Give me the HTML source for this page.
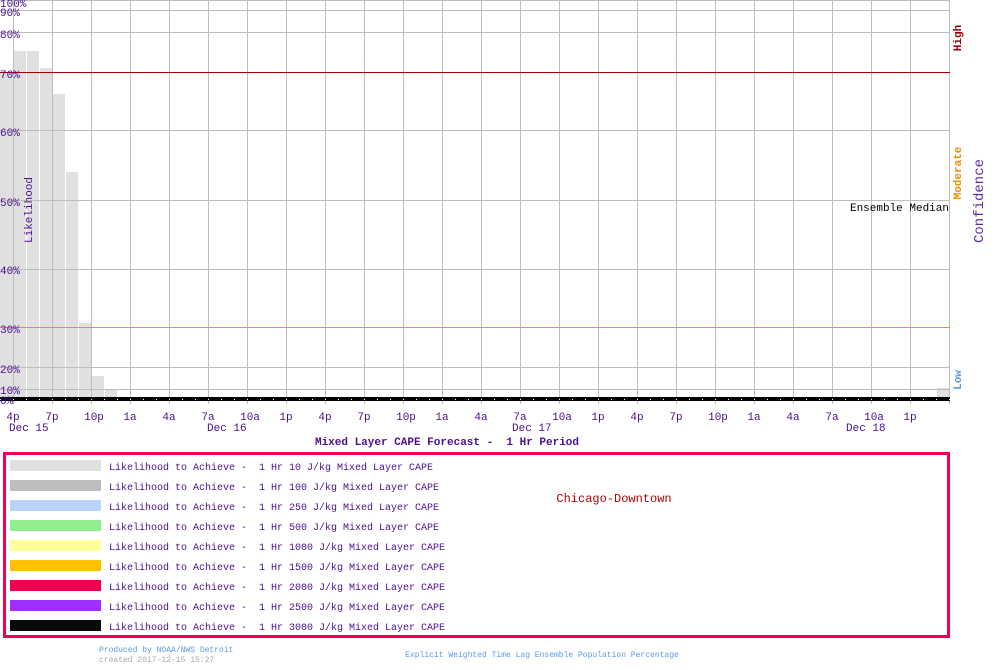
<!DOCTYPE html>
<html><head><style>
body{margin:0;background:#fff;width:1000px;height:670px;overflow:hidden}
svg{display:block}
text{font-family:"Liberation Mono","DejaVu Sans Mono",monospace}
.pre{white-space:pre}
</style></head><body>
<svg width="1000" height="670" viewBox="0 0 1000 670" xmlns="http://www.w3.org/2000/svg">
<g fill="#e0e0e0">
<rect x="0" y="72" width="13" height="328"/>
<rect x="14" y="51" width="12" height="349"/>
<rect x="27" y="51" width="12" height="349"/>
<rect x="40" y="68" width="12" height="332"/>
<rect x="53" y="94" width="12" height="306"/>
<rect x="66" y="172" width="12" height="228"/>
<rect x="79" y="323" width="12" height="77"/>
<rect x="92" y="376" width="12" height="24"/>
<rect x="105" y="390" width="12" height="10"/>
<rect x="937" y="388" width="13" height="12"/>
</g>
<g stroke="#bdbdbd" stroke-width="1">
<line x1="0" y1="0.5" x2="950" y2="0.5"/>
<line x1="0" y1="10.5" x2="950" y2="10.5"/>
<line x1="0" y1="32.5" x2="950" y2="32.5"/>
<line x1="0" y1="130.5" x2="950" y2="130.5"/>
<line x1="0" y1="200.5" x2="950" y2="200.5"/>
<line x1="0" y1="269.5" x2="950" y2="269.5"/>
<line x1="0" y1="367.5" x2="950" y2="367.5"/>
<line x1="0" y1="389.5" x2="950" y2="389.5"/>
</g>
<g stroke="#bdbdbd" stroke-width="1">
<line x1="13.5" y1="0" x2="13.5" y2="404"/><line x1="52.5" y1="0" x2="52.5" y2="404"/><line x1="91.5" y1="0" x2="91.5" y2="404"/><line x1="130.5" y1="0" x2="130.5" y2="404"/><line x1="169.5" y1="0" x2="169.5" y2="404"/><line x1="208.5" y1="0" x2="208.5" y2="404"/><line x1="247.5" y1="0" x2="247.5" y2="404"/><line x1="286.5" y1="0" x2="286.5" y2="404"/><line x1="325.5" y1="0" x2="325.5" y2="404"/><line x1="364.5" y1="0" x2="364.5" y2="404"/><line x1="403.5" y1="0" x2="403.5" y2="404"/><line x1="442.5" y1="0" x2="442.5" y2="404"/><line x1="481.5" y1="0" x2="481.5" y2="404"/><line x1="520.5" y1="0" x2="520.5" y2="404"/><line x1="559.5" y1="0" x2="559.5" y2="404"/><line x1="598.5" y1="0" x2="598.5" y2="404"/><line x1="637.5" y1="0" x2="637.5" y2="404"/><line x1="676.5" y1="0" x2="676.5" y2="404"/><line x1="715.5" y1="0" x2="715.5" y2="404"/><line x1="754.5" y1="0" x2="754.5" y2="404"/><line x1="793.5" y1="0" x2="793.5" y2="404"/><line x1="832.5" y1="0" x2="832.5" y2="404"/><line x1="871.5" y1="0" x2="871.5" y2="404"/><line x1="910.5" y1="0" x2="910.5" y2="404"/><line x1="949.5" y1="0" x2="949.5" y2="404"/>
</g>
<line x1="0" y1="72.5" x2="950" y2="72.5" stroke="#a00000"/>
<line x1="0" y1="327.5" x2="950" y2="327.5" stroke="#f0901a"/>
<rect x="0" y="397" width="950" height="4" fill="#000"/>
<line x1="0" y1="399.5" x2="950" y2="399.5" stroke="#fff" stroke-dasharray="1 12" stroke-dashoffset="-13"/>
<g fill="#4b0f8f" font-size="11">
<text x="0" y="7">100%</text>
<text x="0" y="16">90%</text>
<text x="0" y="38">80%</text>
<text x="0" y="78">70%</text>
<text x="0" y="136">60%</text>
<text x="0" y="206">50%</text>
<text x="0" y="274">40%</text>
<text x="0" y="333">30%</text>
<text x="0" y="373">20%</text>
<text x="0" y="394">10%</text>
<text x="0" y="404">0%</text>
</g>
<text x="32" y="210" fill="#4b0f8f" font-size="11" text-anchor="middle" transform="rotate(-90 32 210)">Likelihood</text>
<text x="949" y="211" fill="#000" font-size="11" text-anchor="end">Ensemble Median</text>
<text x="961" y="38" fill="#9b0000" font-size="11" font-weight="bold" text-anchor="middle" transform="rotate(-90 961 38)">High</text>
<text x="961" y="173" fill="#f08c00" font-size="11" font-weight="bold" text-anchor="middle" transform="rotate(-90 961 173)">Moderate</text>
<text x="961" y="380" fill="#5a9ae8" font-size="11" font-weight="bold" text-anchor="middle" transform="rotate(-90 961 380)">Low</text>
<text x="983" y="201" fill="#5c2ea0" font-size="14" text-anchor="middle" transform="rotate(-90 983 201)">Confidence</text>
<g fill="#4b0f8f" font-size="11" text-anchor="middle">
<text x="13" y="420">4p</text><text x="52" y="420">7p</text><text x="94" y="420">10p</text><text x="130" y="420">1a</text><text x="169" y="420">4a</text><text x="208" y="420">7a</text><text x="250" y="420">10a</text><text x="286" y="420">1p</text><text x="325" y="420">4p</text><text x="364" y="420">7p</text><text x="406" y="420">10p</text><text x="442" y="420">1a</text><text x="481" y="420">4a</text><text x="520" y="420">7a</text><text x="562" y="420">10a</text><text x="598" y="420">1p</text><text x="637" y="420">4p</text><text x="676" y="420">7p</text><text x="718" y="420">10p</text><text x="754" y="420">1a</text><text x="793" y="420">4a</text><text x="832" y="420">7a</text><text x="874" y="420">10a</text><text x="910" y="420">1p</text>
</g>
<g fill="#4b0f8f" font-size="11">
<text x="9" y="431">Dec 15</text><text x="207" y="431">Dec 16</text><text x="512" y="431">Dec 17</text><text x="846" y="431">Dec 18</text>
</g>
<text class="pre" x="447" y="445" fill="#4b0f8f" font-size="11" font-weight="bold" text-anchor="middle">Mixed Layer CAPE Forecast -  1 Hr Period</text>
<rect x="4.5" y="453.5" width="944" height="183" fill="none" stroke="#f0004f" stroke-width="3"/>
<g>
<rect x="10" y="460" width="91" height="11" fill="#e0e0e0"/>
<rect x="10" y="480" width="91" height="11" fill="#bdbdbd"/>
<rect x="10" y="500" width="91" height="11" fill="#b8d4f8"/>
<rect x="10" y="520" width="91" height="11" fill="#90ee90"/>
<rect x="10" y="540" width="91" height="11" fill="#ffff99"/>
<rect x="10" y="560" width="91" height="11" fill="#ffc000"/>
<rect x="10" y="580" width="91" height="11" fill="#f0004f"/>
<rect x="10" y="600" width="91" height="11" fill="#a030ff"/>
<rect x="10" y="620" width="91" height="11" fill="#0a0a0a"/>
</g>
<g fill="#4b0f8f" font-size="10" class="pre">
<text class="pre" x="109" y="470">Likelihood to Achieve -  1 Hr 10 J/kg Mixed Layer CAPE</text>
<text class="pre" x="109" y="490">Likelihood to Achieve -  1 Hr 100 J/kg Mixed Layer CAPE</text>
<text class="pre" x="109" y="510">Likelihood to Achieve -  1 Hr 250 J/kg Mixed Layer CAPE</text>
<text class="pre" x="109" y="530">Likelihood to Achieve -  1 Hr 500 J/kg Mixed Layer CAPE</text>
<text class="pre" x="109" y="550">Likelihood to Achieve -  1 Hr 1000 J/kg Mixed Layer CAPE</text>
<text class="pre" x="109" y="570">Likelihood to Achieve -  1 Hr 1500 J/kg Mixed Layer CAPE</text>
<text class="pre" x="109" y="590">Likelihood to Achieve -  1 Hr 2000 J/kg Mixed Layer CAPE</text>
<text class="pre" x="109" y="610">Likelihood to Achieve -  1 Hr 2500 J/kg Mixed Layer CAPE</text>
<text class="pre" x="109" y="630">Likelihood to Achieve -  1 Hr 3000 J/kg Mixed Layer CAPE</text>
</g>
<text x="614" y="502" fill="#b00000" font-size="12" text-anchor="middle">Chicago-Downtown</text>
<text x="99" y="652" fill="#5a9ae8" font-size="8">Produced by NOAA/NWS Detroit</text>
<text x="99" y="662" fill="#aaaaaa" font-size="8">created 2017-12-15 15:27</text>
<text x="542" y="657" fill="#5a9ae8" font-size="8" text-anchor="middle">Explicit Weighted Time Lag Ensemble Population Percentage</text>
</svg>
</body></html>
